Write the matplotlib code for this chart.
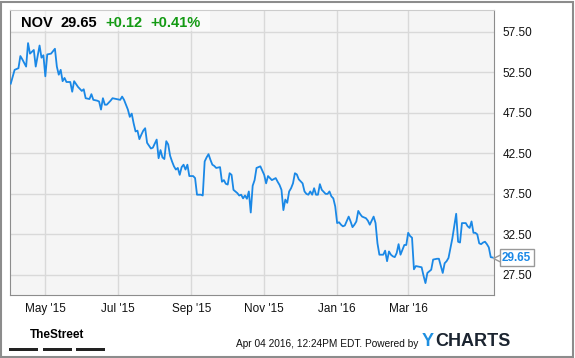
import matplotlib
matplotlib.use('Agg')
import matplotlib.pyplot as plt
from matplotlib.patches import Rectangle
from matplotlib.transforms import blended_transform_factory

# trading session number (0 = early Apr 2015) and NOV closing price
session = [0, 2, 4, 5, 6, 8, 9, 10, 12, 13, 15, 16, 17, 18, 19, 21, 23, 24, 25, 26,
           27, 28, 29, 31, 32, 33, 35, 37, 38, 39, 41, 42, 43, 45, 46, 47, 48, 49, 50, 52,
           53, 55, 57, 58, 59, 60, 61, 62, 63, 64, 65, 66, 67, 68, 69, 70, 71, 73, 74, 76,
           77, 78, 79, 80, 81, 82, 83, 84, 85, 86, 87, 88, 89, 90, 91, 92, 93, 95, 96, 97,
           99, 100, 101, 102, 103, 104, 105, 106, 107, 109, 110, 111, 112, 113, 114, 115, 116, 118, 119, 120,
           121, 122, 123, 124, 125, 126, 127, 128, 129, 130, 132, 133, 134, 135, 136, 138, 139, 140, 141, 142,
           143, 144, 145, 146, 147, 148, 149, 150, 152, 153, 154, 155, 156, 157, 158, 159, 160, 161, 162, 164,
           165, 166, 167, 168, 169, 170, 171, 172, 173, 174, 176, 177, 178, 179, 180, 181, 182, 183, 185, 186,
           187, 188, 189, 190, 191, 192, 194, 195, 196, 197, 198, 199, 200, 201, 202, 203, 204, 205, 206, 207,
           208, 209, 210, 211, 213, 214, 215, 216, 217, 218, 219, 220, 222, 223, 224, 225, 226, 227, 228, 230,
           231, 232, 233, 234, 235, 237, 238, 239, 240, 241, 242, 243, 244, 245, 246, 247, 248, 249, 250, 251]
price = [51.1, 52.8, 53.0, 54.5, 54.1, 53.2, 56.1, 54.8, 55.25, 53.2, 55.8, 54.3, 54.6, 52.0, 54.7, 54.8, 55.4, 53.2, 52.2, 52.8,
         51.4, 51.8, 51.3, 51.3, 50.1, 51.4, 50.7, 50.2, 50.4, 49.3, 49.2, 49.8, 49.1, 49.0, 48.9, 47.9, 49.3, 48.5, 48.5, 49.0,
         49.3, 49.2, 49.1, 49.5, 49.1, 48.5, 47.9, 47.0, 47.4, 46.2, 45.2, 45.3, 44.25, 44.8, 45.3, 45.6, 43.8, 43.1, 43.2, 44.2,
         41.9, 42.9, 42.0, 41.8, 44.0, 43.6, 42.2, 41.5, 40.9, 40.5, 40.7, 39.85, 40.8, 41.1, 40.5, 41.1, 39.7, 39.7, 39.45, 37.4,
         37.4, 37.3, 41.5, 42.0, 42.4, 41.7, 41.1, 40.95, 40.7, 40.8, 39.0, 39.2, 38.75, 38.65, 40.05, 39.85, 38.0, 37.6, 37.3, 37.4,
         36.95, 37.3, 36.9, 37.8, 35.2, 38.5, 39.2, 40.7, 40.8, 40.9, 39.85, 38.8, 39.7, 39.45, 39.2, 39.45, 39.0, 38.6, 38.0, 35.5,
         36.8, 36.4, 37.8, 38.2, 38.8, 40.05, 39.9, 39.3, 38.8, 37.8, 37.5, 37.4, 37.8, 37.4, 38.2, 37.4, 37.4, 38.7, 38.0, 37.5,
         37.5, 37.8, 37.2, 36.95, 35.95, 33.9, 34.0, 33.7, 33.5, 33.6, 34.7, 34.1, 33.4, 33.7, 34.1, 35.4, 35.0, 34.7, 34.5, 34.2,
         33.7, 34.2, 34.7, 33.9, 31.4, 30.0, 30.0, 30.5, 29.2, 30.4, 30.0, 29.8, 29.7, 30.2, 31.3, 30.0, 30.6, 31.2, 31.2, 32.7,
         32.3, 32.1, 28.2, 28.6, 28.5, 28.45, 27.4, 26.5, 27.75, 27.95, 28.15, 29.4, 29.5, 29.5, 28.6, 27.75, 28.95, 29.2, 29.6, 32.0,
         33.5, 35.05, 31.6, 31.5, 33.9, 33.9, 33.5, 33.3, 34.1, 32.7, 32.7, 32.5, 31.4, 31.3, 31.5, 31.6, 31.3, 30.9, 29.7, 29.65]
assert len(session) == len(price)

month_pos = [18, 56, 94, 132, 170, 207]
month_labels = ["May '15", "Jul '15", "Sep '15", "Nov '15", "Jan '16", "Mar '16"]
y_ticks = [27.5, 32.5, 37.5, 42.5, 47.5, 52.5, 57.5]

ticker = 'NOV'
last = 29.65
change = '+0.12'
change_pct = '+0.41%'

LINE = '#1a88e6'
GREEN = '#139a13'
FONT = 'Liberation Sans'

plt.rcParams['font.family'] = FONT

fig = plt.figure(figsize=(5.75, 3.58), dpi=100)
ax = fig.add_axes([10 / 575, 63 / 358, 484 / 575, 285 / 358])
ax.set_facecolor('#f5f5f5')

ax.plot(session, price, color=LINE, lw=1.3, zorder=3)

ax.set_xlim(-0.4, 251.7)
ax.set_ylim(25.03, 60.18)
ax.set_xticks(month_pos)
ax.set_xticklabels(month_labels)
ax.set_yticks(y_ticks)
ax.set_yticklabels(['%.2f' % t for t in y_ticks])
ax.yaxis.tick_right()
ax.tick_params(length=0, labelsize=8.5, colors='#111111')
ax.tick_params(axis='y', pad=6)
ax.tick_params(axis='x', pad=6)
ax.grid(True, color='#d9d9d9', lw=1)
ax.set_axisbelow(True)
for s in ['left', 'right', 'bottom']:
    ax.spines[s].set_color('#8c8c8c')
ax.spines['top'].set_color('#cccccc')

# header band behind the quote
ax.add_patch(Rectangle((0, 1 - 21 / 285), 200 / 484, 21 / 285, transform=ax.transAxes,
                       facecolor='white', alpha=0.55, edgecolor='none', zorder=2))
hy = 1 - 13 / 285
for xp, txt, col in [(11, ticker, 'black'), (50, '%.2f' % last, 'black'),
                     (95, change, GREEN), (140, change_pct, GREEN)]:
    ax.text(xp / 484, hy, txt, transform=ax.transAxes, fontsize=10.5, fontweight='bold',
            color=col, va='center', zorder=4)

# last price flag
tr = blended_transform_factory(ax.transAxes, ax.transData)
ax.plot([1.0 + 4 / 484], [last], marker='<', ms=7, mfc='white', mec='#999999', mew=1,
        transform=tr, clip_on=False, zorder=5)
ax.text(1.0 + 8 / 484, last, '%.2f' % last, transform=tr, fontsize=8.5, fontweight='bold',
        color=LINE, va='center', ha='left', zorder=6,
        bbox=dict(boxstyle='square,pad=0.2', fc='white', ec='#999999', lw=1))

# footer
fig.text(57 / 575, 1 - 335 / 358, 'TheStreet', fontsize=8.5, fontweight='bold',
         ha='center', va='center')
for x0 in [9, 43, 76]:
    fig.patches.append(Rectangle((x0 / 575, 1 - 351 / 358), 29 / 575, 3 / 358,
                                 transform=fig.transFigure, facecolor='#222222',
                                 edgecolor='none'))
fig.text(418 / 575, 1 - 344 / 358, 'Apr 04 2016, 12:24PM EDT. Powered by', fontsize=7.3,
         ha='right', va='center', color='#111111')
fig.text(422 / 575, 1 - 342 / 358, 'Y', fontsize=13, fontweight='bold', color='#1e8fe0',
         ha='left', va='center')
fig.text(435 / 575, 1 - 342 / 358, 'CHARTS', fontsize=13, fontweight='bold', color='#1b2430',
         ha='left', va='center')

# outer frame
fig.patches.append(Rectangle((1 / 575, 1 / 358), 572 / 575, 355 / 358, transform=fig.transFigure,
                             facecolor='none', edgecolor='#8c8c8c', lw=1.5))

fig.savefig('out.png', dpi=100)
